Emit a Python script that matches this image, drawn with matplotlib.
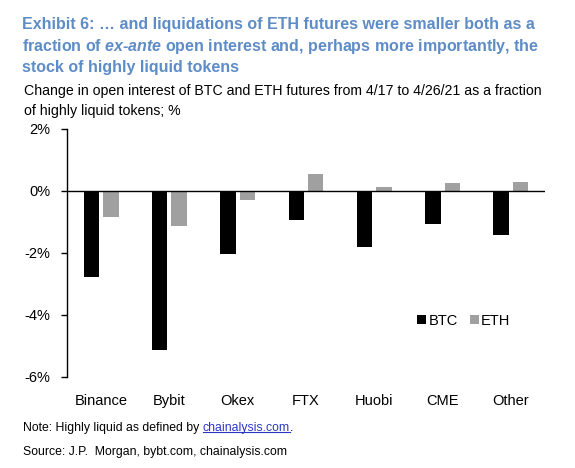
import matplotlib
matplotlib.use("Agg")
import matplotlib.pyplot as plt
import numpy as np

# data (% of highly liquid tokens)
exchanges = ["Binance", "Bybit", "Okex", "FTX", "Huobi", "CME", "Other"]
btc = [-2.77, -5.14, -2.04, -0.95, -1.80, -1.08, -1.42]
eth = [-0.85, -1.13, -0.30, 0.54, 0.13, 0.26, 0.30]
yticks = [2, 0, -2, -4, -6]

title_lines = [
    "Exhibit 6: \u2026 and liquidations of ETH futures were smaller both as a",
    "fraction of $\\it{ex}$-$\\it{ante}$ open interest and, perhaps more importantly, the",
    "stock of highly liquid tokens",
]
subtitle_lines = [
    "Change in open interest of BTC and ETH futures from 4/17 to 4/26/21 as a fraction",
    "of highly liquid tokens; %",
]

plt.rcParams["font.family"] = ["Liberation Sans", "DejaVu Sans"]
plt.rcParams["mathtext.fontset"] = "custom"
plt.rcParams["mathtext.it"] = "Liberation Sans:italic:bold"
plt.rcParams["mathtext.rm"] = "Liberation Sans:bold"

W, H = 575, 468
fig = plt.figure(figsize=(W / 100, H / 100), dpi=100)
ax = fig.add_axes([67 / W, 1 - 377 / H, 478 / W, 248 / H])

x = np.arange(len(exchanges))
w = 0.227
off = 0.142
ax.bar(x - off, btc, width=w, color="black", label="BTC")
ax.bar(x + off, eth, width=w, color="#a0a0a0", label="ETH")
ax.axhline(0, color="black", linewidth=1.0)

ax.set_xlim(-0.5, len(exchanges) - 0.5)
ax.set_ylim(-6, 2)
ax.set_yticks(yticks)
ax.set_yticklabels([f"{t}%" for t in yticks], fontsize=10.5)
ax.set_xticks(x)
ax.set_xticklabels(exchanges, fontsize=10.5)
ax.tick_params(axis="x", length=0, pad=12)
ax.tick_params(axis="y", length=4, width=1, pad=8, direction="out")

for s in ["top", "right", "bottom"]:
    ax.spines[s].set_visible(False)
ax.spines["left"].set_linewidth(1.0)

ax.legend(loc="center left", bbox_to_anchor=(0.72, 0.227), ncol=2, frameon=False,
          fontsize=10.5, handlelength=0.65, handleheight=0.65, handletextpad=0.15,
          columnspacing=0.8, borderaxespad=0)

# title and subtitle, one line at a time on the baselines of the reference
for line, base in zip(title_lines, [29, 51, 72]):
    fig.text(22 / W, 1 - base / H, line, ha="left", va="baseline", fontsize=11.55,
             fontweight="bold", color="#5e8cc6")
for line, base in zip(subtitle_lines, [95, 115]):
    fig.text(24 / W, 1 - base / H, line, ha="left", va="baseline", fontsize=10.15,
             color="black")

# footnotes, with the link drawn in blue and underlined
note_y = 1 - 428 / H
t1 = fig.text(23 / W, note_y, "Note: Highly liquid as defined by ", ha="left",
              va="center", fontsize=8.8)
fig.canvas.draw()
r = fig.canvas.get_renderer()
bb = t1.get_window_extent(r)
t2 = fig.text(bb.x1 / fig.bbox.width, note_y, "chainalysis.com", ha="left",
              va="center", fontsize=8.8, color="#2a36c8")
bb2 = t2.get_window_extent(r)
fig.text(bb2.x1 / fig.bbox.width, note_y, ".", ha="left", va="center", fontsize=8.8)
uy = (bb2.y0 + 2) / fig.bbox.height
fig.add_artist(plt.Line2D([bb2.x0 / fig.bbox.width, bb2.x1 / fig.bbox.width], [uy, uy],
                          color="#2a36c8", linewidth=0.8, transform=fig.transFigure))

fig.text(23 / W, 1 - 452 / H, "Source: J.P.  Morgan, bybt.com, chainalysis.com",
         ha="left", va="center", fontsize=8.8)

fig.savefig("out.png", dpi=100)
